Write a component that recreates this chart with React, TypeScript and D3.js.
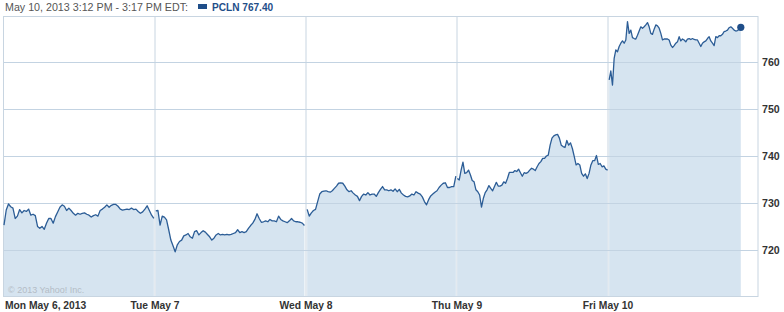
import React from "react";
import * as d3 from "d3";

const W = 784;
const H = 312;

// Price readings per trading session (evenly spaced samples within each session)
const monPrices = [725.3, 728.5, 729.8, 729.2, 728.9, 726.7, 727.2, 728.6, 727.9, 728.4, 728.2, 728.7, 727.4, 727.6, 727.3, 725.0, 724.6, 725.0, 724.4, 725.7, 726.7, 726.7, 725.7, 727.1, 728.1, 729.1, 729.6, 729.3, 728.4, 728.9, 728.4, 727.8, 727.4, 727.8, 727.6, 727.8, 727.9, 727.6, 727.4, 727.0, 727.3, 727.5, 727.2, 728.4, 728.7, 729.1, 729.6, 729.1, 729.5, 729.7, 729.7, 729.3, 728.7, 728.5, 728.6, 728.7, 728.6, 728.9, 728.6, 728.7, 728.2, 727.8, 728.1, 728.7, 729.4, 728.4, 727.4, 726.7];
const tuePrices = [728.3, 728.4, 725.3, 727.2, 727.0, 726.4, 724.3, 722.1, 720.9, 719.6, 721.1, 721.8, 722.1, 723.0, 723.2, 723.5, 722.8, 722.5, 723.9, 724.1, 723.2, 723.7, 724.1, 723.8, 723.3, 722.8, 722.1, 722.5, 723.2, 723.5, 723.2, 723.3, 723.2, 723.3, 723.2, 723.3, 723.5, 723.7, 724.3, 723.7, 723.9, 723.7, 723.9, 724.6, 725.2, 725.7, 726.5, 727.7, 726.7, 725.9, 726.0, 726.2, 726.0, 726.5, 726.2, 726.2, 726.0, 727.2, 726.5, 726.2, 726.0, 725.8, 726.2, 726.7, 726.2, 726.0, 726.0, 725.9, 725.7, 725.2];
const wedPrices = [728.65, 727.2, 727.9, 728.4, 728.65, 730.3, 731.9, 732.4, 732.5, 732.6, 732.4, 732.3, 732.6, 733.1, 733.6, 734.2, 734.3, 734.2, 733.6, 732.8, 732.4, 732.6, 732.1, 731.7, 731.4, 730.5, 731.4, 731.9, 731.7, 732.2, 731.7, 731.9, 731.9, 731.4, 732.2, 732.9, 733.5, 732.8, 732.8, 732.6, 732.8, 732.5, 733.0, 732.4, 732.9, 732.1, 731.7, 731.4, 731.3, 731.5, 731.9, 731.7, 732.4, 732.1, 731.9, 731.3, 730.3, 729.6, 730.7, 731.5, 731.9, 732.3, 732.6, 733.3, 733.8, 734.2, 734.3, 733.3, 733.3, 733.5, 733.5, 735.7];
const thuPrices = [735.2, 734.9, 737.0, 738.7, 736.3, 736.45, 737.0, 736.0, 734.8, 734.5, 732.8, 732.4, 731.7, 729.1, 731.0, 732.2, 732.8, 733.7, 733.1, 732.6, 733.5, 734.4, 733.6, 733.6, 733.8, 734.5, 734.2, 735.2, 736.5, 736.5, 736.5, 736.9, 736.7, 737.2, 736.45, 735.7, 736.45, 736.3, 736.5, 737.0, 737.4, 737.2, 736.9, 737.7, 738.4, 738.8, 739.5, 739.5, 740.0, 740.2, 742.3, 743.8, 744.3, 744.5, 744.6, 743.8, 742.3, 742.0, 741.8, 743.3, 742.3, 742.8, 741.6, 739.9, 738.1, 738.4, 738.1, 736.3, 735.7, 736.2, 735.2, 736.3, 738.1, 739.0, 739.0, 740.1, 738.2, 738.4, 737.7, 737.9, 737.2, 737.0];
const friPrices = [756.2, 758.1, 755.1, 760.8, 762.6, 762.2, 763.3, 764.0, 764.5, 764.0, 764.7, 768.6, 766.1, 766.8, 765.2, 765.0, 764.9, 765.7, 766.6, 767.5, 767.2, 767.5, 767.9, 768.4, 767.5, 766.1, 765.9, 767.0, 767.9, 767.7, 767.2, 766.1, 764.7, 764.9, 764.9, 764.9, 764.7, 763.6, 763.1, 763.5, 764.0, 764.3, 765.4, 764.5, 764.9, 764.7, 764.3, 764.9, 765.0, 764.8, 765.0, 764.8, 764.7, 764.7, 764.0, 763.3, 764.0, 764.3, 764.5, 765.0, 765.4, 764.5, 764.0, 763.5, 765.4, 765.2, 765.6, 765.6, 765.9, 766.5, 766.6, 766.8, 767.3, 767.5, 767.2, 766.8, 766.6, 766.7, 767.0, 767.4];

// Session sample windows (minutes after 9:30 open)
const sessionStart = [0, 2, 3, 1, 3];
const sessionEnd = [387, 386, 387, 389, 343];
const sessionMinutes = 390;

const dayLabels = ["Mon May 6, 2013", "Tue May 7", "Wed May 8", "Thu May 9", "Fri May 10"];
const yTicks = [720, 730, 740, 750, 760];
const headerText = "May 10, 2013 3:12 PM - 3:17 PM EDT:";
const legendText = "PCLN 767.40";

const sessions = [monPrices, tuePrices, wedPrices, thuPrices, friPrices];

export default function App() {
  const left = 4, right = 759, top = 16, bottom = 296;
  const x = d3.scaleLinear().domain([0, 5 * sessionMinutes]).range([left, right]);
  const y = d3.scaleLinear().domain([710.2, 769.8]).range([bottom, top]);

  const series = sessions.map((prices, d) => {
    const s = sessionStart[d], e = sessionEnd[d];
    return prices.map((p, i) => ({
      t: d * sessionMinutes + s + (i * (e - s)) / (prices.length - 1),
      v: p,
    }));
  });

  const line = d3.line<{ t: number; v: number }>().x((p) => x(p.t)).y((p) => y(p.v));
  const area = d3
    .area<{ t: number; v: number }>()
    .x((p) => x(p.t))
    .y0(bottom)
    .y1((p) => y(p.v));

  const last = series[4][series[4].length - 1];
  const grid = "#c8d5e1";

  return (
    <svg
      width={W}
      height={H}
      style={{ position: "absolute", left: 0, top: 0, background: "#fff" }}
    >
      {/* vertical gridlines */}
      {[1, 2, 3, 4].map((d) => (
        <line key={d} x1={x(d * sessionMinutes)} x2={x(d * sessionMinutes)} y1={top} y2={bottom} stroke={grid} strokeWidth={1} />
      ))}
      {/* area fills */}
      {series.map((s, i) => (
        <path key={"a" + i} d={area(s) || ""} fill="#d6e4f0" stroke="none" />
      ))}
      {/* horizontal gridlines */}
      {yTicks.map((v) => (
        <line key={v} x1={left - 0.5} x2={right - 1} y1={Math.round(y(v)) + 0.5} y2={Math.round(y(v)) + 0.5} stroke="#c3d3e2" strokeWidth={1} />
      ))}
      {/* frame */}
      <rect x={3.5} y={top + 0.5} width={right - 1 - 3.5} height={bottom - top} fill="none" stroke={grid} strokeWidth={1} />
      {/* lines */}
      {series.map((s, i) => (
        <path key={"l" + i} d={line(s) || ""} fill="none" stroke="#2c5d96" strokeWidth={1.3} strokeLinejoin="round" />
      ))}
      <circle cx={x(last.t)} cy={y(last.v)} r={3.6} fill="#1f4e89" />
      {/* y labels */}
      {yTicks.map((v) => (
        <text key={"t" + v} x={762} y={y(v)} dy="0.35em" fontFamily="'Liberation Sans', Arial, sans-serif" fontWeight="bold" fontSize={10.6} fill="#333">
          {v}
        </text>
      ))}
      {/* x labels */}
      {dayLabels.map((lab, d) => (
        <text
          key={lab}
          x={d === 0 ? 5 : x(d * sessionMinutes)}
          y={309}
          textAnchor={d === 0 ? "start" : "middle"}
          fontFamily="'Liberation Sans', Arial, sans-serif"
          fontWeight="bold"
          fontSize={10.3}
          fill="#333"
        >
          {lab}
        </text>
      ))}
      <text x={8} y={292.5} fontFamily="'Liberation Sans', Arial, sans-serif" fontSize={9} fill="#b4bcc6">
        © 2013 Yahoo! Inc.
      </text>
      {/* header */}
      <text x={5} y={11} fontFamily="'Liberation Sans', Arial, sans-serif" fontSize={10.7} fill="#555">
        {headerText}
      </text>
      <rect x={198} y={4} width={9} height={5} fill="#1f4e89" />
      <text x={212} y={11} fontFamily="'Liberation Sans', Arial, sans-serif" fontWeight="bold" fontSize={10.1} fill="#1f4e89">
        {legendText}
      </text>
    </svg>
  );
}
